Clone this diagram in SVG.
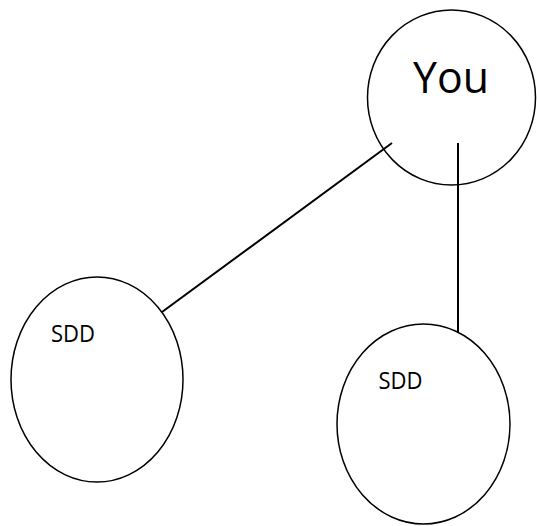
<svg xmlns="http://www.w3.org/2000/svg" width="537" height="526" viewBox="0 0 537 526">
<style>
.node{fill:#fff;stroke:#000;stroke-width:1.5}
.edge{stroke:#000;stroke-width:2;fill:none}
.lbl{font-family:"Open Sans","Liberation Sans",sans-serif;fill:#000}
</style>
<rect width="537" height="526" fill="#fff"/>
<g id="you"><ellipse class="node" cx="451.5" cy="97.5" rx="84" ry="87.5"/><text class="lbl" x="413" y="93" font-size="44" textLength="76" lengthAdjust="spacingAndGlyphs">You</text></g>
<g id="sdd1"><ellipse class="node" cx="97" cy="379.5" rx="86" ry="102.5"/><text class="lbl" x="51" y="342" font-size="24" textLength="44" lengthAdjust="spacingAndGlyphs">SDD</text></g>
<g id="sdd2"><ellipse class="node" cx="423.5" cy="424" rx="86.5" ry="100"/><text class="lbl" x="378.5" y="389" font-size="24" textLength="44" lengthAdjust="spacingAndGlyphs">SDD</text></g>
<g id="connectors">
<line class="edge" x1="392" y1="143" x2="162" y2="312"/>
<line class="edge" x1="458" y1="143" x2="458" y2="332"/>
</g>
</svg>
